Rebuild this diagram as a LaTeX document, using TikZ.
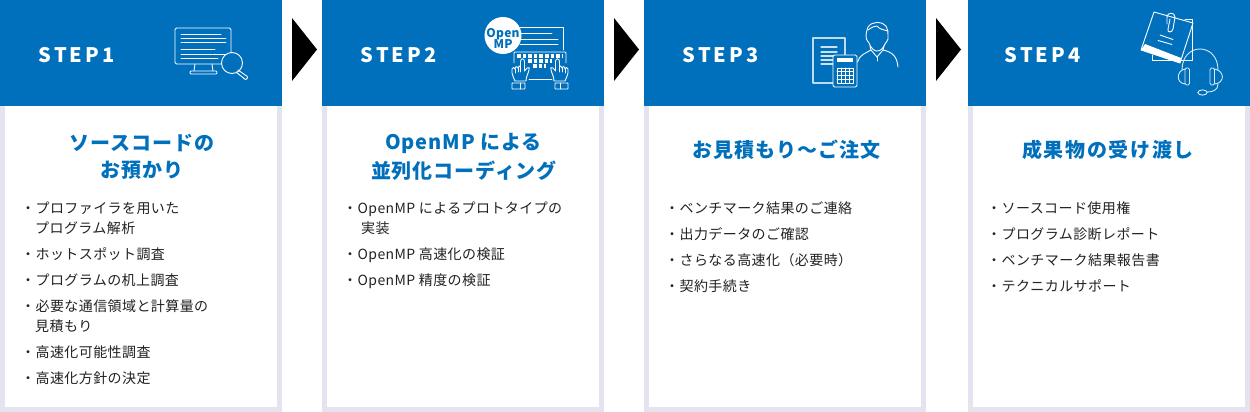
\documentclass[tikz,border=0pt]{standalone}
\usepackage{fontspec}
\newfontfamily\bodyfont[LetterSpace=3]{Noto Sans CJK JP}
\newfontfamily\titlefont[LetterSpace=4.5]{Noto Sans CJK JP}
\newfontfamily\titlewidefont[LetterSpace=8.5]{Noto Sans CJK JP}
\newfontfamily\stepfont[LetterSpace=15]{Noto Sans CJK JP}
\newfontfamily\badgefont[LetterSpace=2]{Noto Sans CJK JP}
\definecolor{headblue}{HTML}{0070BC}
\definecolor{edgelav}{HTML}{E4E4F0}
\definecolor{bodyink}{HTML}{222222}
\tikzset{
  cardedge/.style={fill=edgelav, draw=none},
  cardhead/.style={fill=headblue, draw=none},
  cardface/.style={fill=white, draw=none},
  nextarrow/.style={fill=black, draw=none},
  steplabel/.style={text=white, inner sep=0, font=\stepfont\bfseries\fontsize{20}{20}\selectfont},
  cardtitle/.style={text=headblue, inner sep=0, font=\titlefont\bfseries\fontsize{20}{20}\selectfont},
  listitem/.style={text=bodyink, inner sep=0, anchor=west, text height=15, text depth=2, font=\bodyfont\fontsize{14}{14}\selectfont},
  iconline/.style={draw=white, line width=0.9, line join=round, line cap=round},
  iconfill/.style={fill=white, draw=none},
  keyrow/.style={draw=white, line width=3.6, dash pattern=on 3.6 off 2},
  handicon/.pic={
    \draw[iconline, fill=headblue] (-8,21) .. controls (-9,18) and (-11,15) .. (-11,13) -- (-11,9) .. controls (-11,7) and (-8,7) .. (-8,9)
      .. controls (-8,6) and (-5,6) .. (-5,8) .. controls (-5,6) and (-2.5,5) .. (-2.5,7) -- (-2.5,1.5) .. controls (-2.5,-2) and (1.5,-2) .. (1.5,1.5)
      -- (1.5,11) -- (4,8) .. controls (6,6.5) and (7,8) .. (6,10) .. controls (5,14) and (3,17) .. (3,21) -- cycle;
    \draw[iconline] (-8,9) -- (-8,13) (-5,8) -- (-5,12) (-2.5,7) -- (-2.5,12);
    \draw[iconline, rounded corners=0.5] (-11,23) rectangle (2,29);
    \draw[iconline] (-3,23) -- (-3,29);
  }
}
\begin{document}
\begin{tikzpicture}[x=1pt, y=-1pt]
  \useasboundingbox (0,0) rectangle (1250,412);

  % cards
  \fill[cardedge] (0,100) rectangle (282,412);
  \fill[cardface] (5,106) rectangle (277,407);
  \fill[cardhead] (0,0) rectangle (282,106);
  \fill[cardedge] (322,100) rectangle (604,412);
  \fill[cardface] (327,106) rectangle (599,407);
  \fill[cardhead] (322,0) rectangle (604,106);
  \fill[cardedge] (644,100) rectangle (926,412);
  \fill[cardface] (649,106) rectangle (921,407);
  \fill[cardhead] (644,0) rectangle (926,106);
  \fill[cardedge] (968,100) rectangle (1250,412);
  \fill[cardface] (973,106) rectangle (1245,407);
  \fill[cardhead] (968,0) rectangle (1250,106);

  \fill[nextarrow] (292,18) -- (317,49.5) -- (292,81) -- cycle;
  \fill[nextarrow] (614,18) -- (639,49.5) -- (614,81) -- cycle;
  \fill[nextarrow] (936,18) -- (961,49.5) -- (936,81) -- cycle;

  \node[steplabel] (step1) at (76.5,55) {STEP1};
  \node[steplabel] (step2) at (398.5,55) {STEP2};
  \node[steplabel] (step3) at (720.5,55) {STEP3};
  \node[steplabel] (step4) at (1042.5,55) {STEP4};

  % monitor and lens
  \draw[iconline, rounded corners=1.5] (175,28) rectangle (231,64);
  \draw[iconline] (181,34) -- (221,34) (181,38) -- (226,38) (181,42) -- (226,42);
  \draw[iconline] (181,49) -- (215,49) (181,54) -- (226,54) (181,58) -- (218,58);
  \draw[iconline] (195,64) -- (194,71) (212,64) -- (213,71);
  \draw[iconline, rounded corners=1] (190,71) rectangle (217,74);
  \draw[iconline, fill=headblue] (232,63) circle[radius=10.5];
  \draw[iconline, rounded corners=1] (238,70) -- (248,77) -- (246,80) -- (236,72);

  % sheet, keyboard and hands
  \draw[iconline] (520,27.5) -- (563,27.5) -- (563,50);
  \draw[iconline] (520,33) -- (552,33) (520,39) -- (558,39) (520,44) -- (558,44);
  \fill[iconfill] (503,35.5) circle[radius=18.5];
  \node[inner sep=0, text=headblue, align=center, font=\badgefont\bfseries\fontsize{12}{11.6}\selectfont] (ompbadge) at (503,38.5) {Open\\MP};
  \draw[iconline, rounded corners=1] (514,63) -- (514,52) -- (566,52) -- (566,63);
  \draw[iconline] (529,79) -- (552,79);
  \draw[keyrow] (517,56) -- (563,56);
  \draw[keyrow] (528,61) -- (552,61);
  \draw[keyrow] (533,66.2) -- (546,66.2);
  \pic at (523,60) {handicon};
  \pic[xscale=-1] at (557,60) {handicon};

  % document, calculator and person
  \draw[iconline, line width=1.2, draw=white!75!headblue] (813,38) rectangle (845,83);
  \draw[iconline, line width=1.2, draw=white!80!headblue] (821,47) -- (837,47) (821,52) -- (837,52) (821,56) -- (834,56) (821,60) -- (834,60) (821,64) -- (834,64);
  \draw[iconline, rounded corners=1.5, fill=headblue] (833,55) rectangle (857,87);
  \fill[iconfill] (837,58) rectangle (853,62);
  \draw[iconline, line width=0.7] (837,68) rectangle (853,83);
  \draw[iconline, line width=0.7] (841,68) -- (841,83) (845,68) -- (845,83) (849,68) -- (849,83);
  \draw[iconline, line width=0.7] (837,71.8) -- (853,71.8) (837,75.5) -- (853,75.5) (837,79.2) -- (853,79.2);
  \draw[iconline] (868,27) .. controls (866,30) and (867,33) .. (866,35) .. controls (865,38) and (867,40) .. (869,43) .. controls (872,50) and (875,51) .. (877,51) .. controls (880,51) and (883,49) .. (885,44) .. controls (888,40) and (889,38) .. (888,35) .. controls (888,32) and (888,29) .. (886,26) .. controls (882,21) and (872,21) .. (868,27);
  \draw[iconline] (868,30) .. controls (872,27) and (875,26) .. (877,26) .. controls (879,29) and (884,30) .. (888,31);
  \draw[iconline] (870,46) -- (871,50) -- (877,57) -- (883,50) -- (884,46);
  \draw[iconline] (857.5,62) .. controls (859,55) and (866,53) .. (871,50);
  \draw[iconline] (883,50) .. controls (892,52) and (897,56) .. (898,67);
  \draw[iconline] (877,57) -- (877,61);

  % papers and headset
  \draw[iconline] (1152,55) -- (1152,60) -- (1192,60) -- (1192,19) -- (1185,19);
  \draw[iconline, fill=headblue] (1154,12) -- (1193,23) -- (1180,63) -- (1141,50) -- cycle;
  \fill[iconfill] (1145,44) -- (1181,58) -- (1180,63) -- (1141,50) -- cycle;
  \draw[iconline] (1160,35) -- (1173,39.5) (1158,40.5) -- (1172,44.5);
  \draw[iconline] (1167,24) -- (1167,17) .. controls (1167,12) and (1175,12) .. (1175,17) -- (1173,29) .. controls (1172,33) and (1167,33) .. (1168,29) -- (1170,19);
  \draw[iconline, draw=white!85!headblue] (1182,70) .. controls (1182,42) and (1218,42) .. (1218,70);
  \draw[iconline, draw=white!85!headblue, fill=headblue, rounded corners=1.5] (1185,68) rectangle (1189.5,85);
  \draw[iconline, draw=white!85!headblue] (1185,69) .. controls (1176,71) and (1176,83) .. (1185,84);
  \draw[iconline, draw=white!85!headblue, fill=headblue, rounded corners=1.5] (1210,68) rectangle (1214.5,85);
  \draw[iconline, draw=white!85!headblue] (1214.5,69) .. controls (1225,71) and (1225,83) .. (1214.5,84);
  \draw[iconline, draw=white!85!headblue] (1218,84) .. controls (1218,90) and (1213,92) .. (1207,92);
  \draw[iconline, draw=white!85!headblue] (1202.5,92.5) ellipse[x radius=4.7, y radius=2.6];

  % titles
  \node[cardtitle] (title1a) at (142,143) {ソースコードの};
  \node[cardtitle] (title1b) at (142,170.5) {お預かり};
  \node[cardtitle] (title2a) at (463.5,143) {OpenMP による};
  \node[cardtitle] (title2b) at (464,170.5) {並列化コーディング};
  \node[cardtitle] (title3) at (786.5,150) {お見積もり～ご注文};
  \node[cardtitle, font=\titlewidefont\bfseries\fontsize{20}{20}\selectfont] (title4) at (1108,150) {成果物の受け渡し};

  % lists
  \node[listitem] (a1) at (21,207) {・プロファイラを用いた};
  \node[listitem] (a1b) at (35,227) {プログラム解析};
  \node[listitem] (a2) at (21,253) {・ホットスポット調査};
  \node[listitem] (a3) at (21,279) {・プログラムの机上調査};
  \node[listitem] (a4) at (21,305) {・必要な通信領域と計算量の};
  \node[listitem] (a4b) at (35,325) {見積もり};
  \node[listitem] (a5) at (21,351) {・高速化可能性調査};
  \node[listitem] (a6) at (21,377) {・高速化方針の決定};

  \node[listitem] (b1) at (343,207) {・OpenMP によるプロトタイプの};
  \node[listitem] (b1b) at (361,227) {実装};
  \node[listitem] (b2) at (343,253) {・OpenMP 高速化の検証};
  \node[listitem] (b3) at (343,279) {・OpenMP 精度の検証};

  \node[listitem] (c1) at (665,207) {・ベンチマーク結果のご連絡};
  \node[listitem] (c2) at (665,233) {・出力データのご確認};
  \node[listitem] (c3) at (665,259) {・さらなる高速化（必要時）};
  \node[listitem] (c4) at (665,285) {・契約手続き};

  \node[listitem] (d1) at (987,207) {・ソースコード使用権};
  \node[listitem] (d2) at (987,233) {・プログラム診断レポート};
  \node[listitem] (d3) at (987,259) {・ベンチマーク結果報告書};
  \node[listitem] (d4) at (987,285) {・テクニカルサポート};
\end{tikzpicture}
\end{document}
